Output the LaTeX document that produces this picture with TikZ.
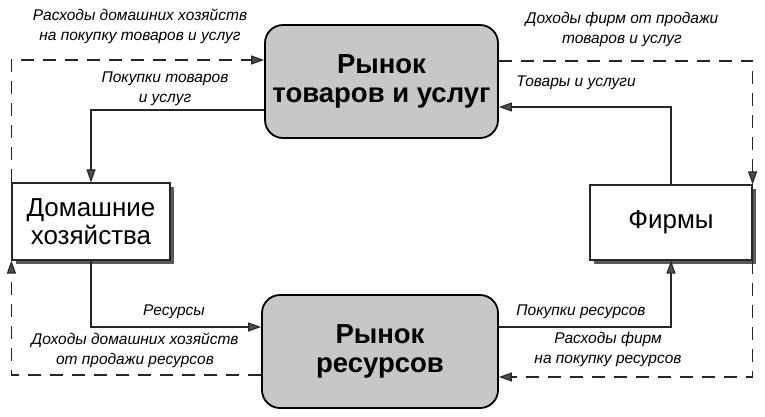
\documentclass[tikz,border=0pt]{standalone}
\usepackage{fontspec}
\setmainfont{Liberation Sans}
\usetikzlibrary{arrows.meta,shadows}
\begin{document}
\begin{tikzpicture}[x=1pt,y=-1pt,
  mkt/.style={draw=black,line width=1.8pt,rounded corners=18pt,fill=black!22,
    minimum width=233pt,minimum height=113pt,inner sep=0pt,align=center,
    font=\fontsize{27.5}{29}\selectfont\bfseries},
  agent/.style={draw=black!85,line width=1.2pt,fill=white,inner sep=0pt,align=center,
    drop shadow={shadow xshift=4pt,shadow yshift=-4pt,fill=black!65,opacity=1},
    font=\fontsize{26}{28}\selectfont},
  lbl/.style={inner sep=0pt,align=center,font=\fontsize{15.5}{20}\selectfont\itshape},
  tip/.style={-{Triangle[length=13pt,width=9pt,fill=black!70]}},
  flow/.style={draw=black!85,line width=1.1pt,tip},
  money/.style={draw=black!85,line width=1.2pt,dash pattern=on 13pt off 9pt,tip}]
\useasboundingbox (0,0) rectangle (765,416);
\node[mkt] (goods) at (381.5,81.5) {Рынок\\товаров и услуг};
\node[mkt,minimum width=236pt] (res) at (380,351.5) {Рынок\\ресурсов};
\node[agent,minimum width=158pt,minimum height=77pt] (hh) at (91,221.5) {Домашние\\хозяйства};
\node[agent,minimum width=162pt,minimum height=75pt] (firms) at (671,222.5) {Фирмы};
% solid flows
\draw[flow] (goods.west |- 0,110) -| (hh.north);
\draw[flow] (firms.north) |- (goods.east |- 0,107);
\draw[flow] (hh.south) |- (res.west |- 0,327);
\draw[flow] (res.east |- 0,327) -| (firms.south);
% money flows
\draw[money] (hh.north west) |- (goods.west |- 0,60);
\draw[money] (res.west |- 0,375) -| (hh.south west);
\draw[money] (goods.east |- 0,61) -| (firms.north east);
\draw[money] (firms.south east) |- (res.east |- 0,377);
% labels
\node[lbl] (l1) at (140,26) {Расходы домашних хозяйств\\на покупку товаров и услуг};
\node[lbl] (l2) at (165,89) {Покупки товаров\\и услуг};
\node[lbl] (l3) at (622,29) {Доходы фирм от продажи\\товаров и услуг};
\node[lbl] (l4) at (576,83) {Товары и услуги};
\node[lbl] (l5) at (174,312) {Ресурсы};
\node[lbl] (l6) at (135,350) {Доходы домашних хозяйств\\от продажи ресурсов};
\node[lbl] (l7) at (581,312) {Покупки ресурсов};
\node[lbl] (l8) at (608,349) {Расходы фирм\\на покупку ресурсов};
\end{tikzpicture}
\end{document}
